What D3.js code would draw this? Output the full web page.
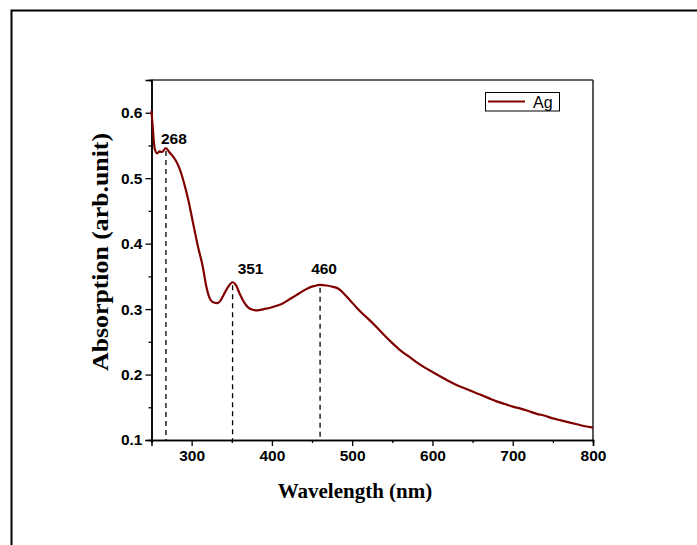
<!DOCTYPE html>
<html><head><meta charset="utf-8">
<script src="https://cdn.jsdelivr.net/npm/d3@7"></script>
<style>html,body{margin:0;padding:0;background:#fff;}svg{display:block;}</style>
</head><body>
<svg id="chart" width="697" height="545"></svg>
<script>
const wavelength = [250,252,254,257,260,263,268,272,277,282,286,290,296,302,308,314,318,322,326,331,336,340,345,351,355,360,365,370,376,382,390,398,406,414,422,430,438,445,452,460,468,476,483,490,497,505,513,520,530,540,550,560,570,580,590,600,610,620,630,640,650,660,670,680,690,700,710,720,730,740,750,760,770,780,790,800];
const absorption = [0.603,0.570,0.545,0.538,0.541,0.540,0.546,0.540,0.533,0.523,0.511,0.495,0.466,0.430,0.395,0.364,0.336,0.318,0.311,0.309,0.313,0.322,0.333,0.341,0.337,0.323,0.311,0.303,0.299,0.298,0.300,0.302,0.305,0.309,0.315,0.321,0.327,0.332,0.335,0.337,0.336,0.334,0.331,0.323,0.314,0.303,0.293,0.285,0.273,0.260,0.248,0.237,0.228,0.219,0.211,0.204,0.197,0.190,0.184,0.179,0.174,0.169,0.164,0.159,0.155,0.151,0.148,0.144,0.140,0.137,0.133,0.130,0.127,0.124,0.121,0.119];
const peakWavelengths = [268,351,460];
const peakValues = [0.546,0.341,0.337];
const peakLabels = ["268","351","460"];
const xMajorTicks = [300,400,500,600,700,800];
const xMinorTicks = [250,350,450,550,650,750];
const yMajorTicks = [0.1,0.2,0.3,0.4,0.5,0.6];
const yMinorTicks = [0.15,0.25,0.35,0.45,0.55,0.65];
const seriesName = "Ag";

const svg = d3.select("#chart");
const L = 151.5, R = 593, T = 80, B = 440;
const x = d3.scaleLinear().domain([250,800]).range([L,R]);
const y = d3.scaleLinear().domain([0.1,0.65]).range([B,T]);

// outer frame
svg.append("rect").attr("x",11.5).attr("y",10.5).attr("width",720).attr("height",560)
  .attr("fill","none").attr("stroke","#000").attr("stroke-width",2);

// plot frame top/right
svg.append("line").attr("x1",L).attr("x2",R).attr("y1",T).attr("y2",T).attr("stroke","#333").attr("stroke-width",1.5);
svg.append("line").attr("x1",R).attr("x2",R).attr("y1",T).attr("y2",B).attr("stroke","#222").attr("stroke-width",1.5);

// axes
svg.append("g").attr("class","ax").attr("transform",`translate(0,${B})`)
  .call(d3.axisBottom(x).tickValues(xMajorTicks).tickSize(6).tickPadding(4).tickFormat(d3.format("d")));
svg.append("g").attr("transform",`translate(0,${B})`)
  .call(d3.axisBottom(x).tickValues(xMinorTicks).tickSize(3).tickFormat(""));
svg.append("g").attr("class","ax").attr("transform",`translate(${L},0)`)
  .call(d3.axisLeft(y).tickValues(yMajorTicks).tickSize(6).tickPadding(3).tickFormat(d3.format(".1f")));
svg.append("g").attr("transform",`translate(${L},0)`)
  .call(d3.axisLeft(y).tickValues(yMinorTicks).tickSize(3).tickFormat(""));
svg.selectAll(".domain").attr("stroke","#000").attr("stroke-width",1.5);
svg.selectAll(".tick line").attr("stroke","#000").attr("stroke-width",1.3);
svg.selectAll(".ax").attr("font-family","'Liberation Sans', Arial, sans-serif").attr("font-size",15.5).attr("font-weight","bold");
svg.selectAll(".tick text").attr("fill","#000");

// dashed peak lines
peakWavelengths.forEach((w,i)=>{
  svg.append("line").attr("x1",x(w)).attr("x2",x(w)).attr("y1",y(peakValues[i])+3).attr("y2",B)
    .attr("stroke","#000").attr("stroke-width",1.3).attr("stroke-dasharray","5,4");
});

// curve
const line = d3.line().x((d,i)=>x(wavelength[i])).y((d,i)=>y(absorption[i])).curve(d3.curveMonotoneX);
svg.append("path").datum(absorption).attr("d",line).attr("fill","none")
  .attr("stroke","#800000").attr("stroke-width",2.2).attr("stroke-linejoin","round");

// peak labels
const labelOffsets = [[8,-4],[18,-8],[4,-10.5]];
peakWavelengths.forEach((w,i)=>{
  svg.append("text").attr("x",x(w)+labelOffsets[i][0]).attr("y",y(peakValues[i])+labelOffsets[i][1])
    .attr("text-anchor","middle").style("font","bold 15.5px 'Liberation Sans', Arial, sans-serif").text(peakLabels[i]);
});

// axis titles
svg.append("text").attr("x",355).attr("y",498).attr("text-anchor","middle")
  .style("font","bold 21px 'Liberation Serif', 'Times New Roman', serif").text("Wavelength (nm)");
svg.append("text").attr("transform","translate(108,252) rotate(-90)").attr("text-anchor","middle")
  .attr("textLength",238).attr("lengthAdjust","spacingAndGlyphs")
  .style("font","bold 23px 'Liberation Serif', 'Times New Roman', serif").text("Absorption (arb.unit)");

// legend
svg.append("rect").attr("x",485.5).attr("y",92.5).attr("width",74).attr("height",18.5)
  .attr("fill","#fff").attr("stroke","#000").attr("stroke-width",1);
svg.append("line").attr("x1",488).attr("x2",525).attr("y1",101.5).attr("y2",101.5)
  .attr("stroke","#800000").attr("stroke-width",2.2);
svg.append("text").attr("x",533).attr("y",107.5).style("font","16px 'Liberation Sans', Arial, sans-serif").text(seriesName);
</script>
</body></html>
